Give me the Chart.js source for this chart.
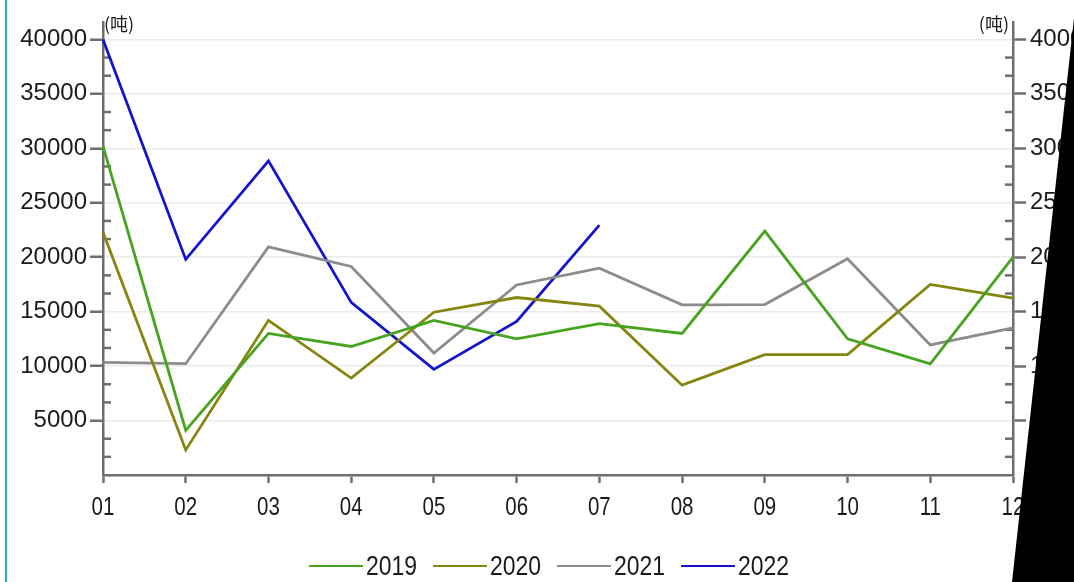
<!DOCTYPE html>
<html><head><meta charset="utf-8">
<script src="https://cdn.jsdelivr.net/npm/chart.js@4/dist/chart.umd.min.js"></script>
<style>
html,body{margin:0;padding:0;background:#fff;}
#wrap{position:relative;width:1074px;height:582px;overflow:hidden;background:#fff;}
#edge{position:absolute;left:5px;top:0;width:2px;height:582px;background:#3aa6d8;}
canvas{position:absolute;left:0;top:0;}
#legend{position:absolute;left:309px;top:548px;height:36px;display:flex;align-items:center;font-family:"Liberation Sans",Arial,sans-serif;font-size:28px;color:#1a1a1a;white-space:nowrap;}
#legend .item{display:flex;align-items:center;margin-right:16px;}
#legend .ln{width:54px;height:2.6px;margin-right:3px;}
#legend .tx{display:inline-block;transform:scaleX(0.82);transform-origin:0 50%;}
</style></head>
<body>
<div id="wrap">
<canvas id="c" width="1074" height="582"></canvas>
<div id="edge"></div>
<div id="legend"></div>
</div>
<script>
const months = ['01','02','03','04','05','06','07','08','09','10','11','12'];
const seriesNames = ['2019','2020','2021','2022'];
const s2019 = [30200, 4100, 13000, 11800, 14200, 12500, 13900, 13000, 22400, 12500, 10200, 20000];
const s2020 = [22300, 2300, 14200, 8900, 14950, 16300, 15500, 8250, 11050, 11050, 17500, 16250];
const s2021 = [10350, 10220, 20950, 19150, 11200, 17450, 19000, 15630, 15650, 19850, 11950, 13500];
const s2022 = [40000, 19800, 28850, 15850, 9700, 14100, 22950];
const yTickValues = [5000, 10000, 15000, 20000, 25000, 30000, 35000, 40000];
const unitLabel = '(吨)';

const colors = ['#46a41f', '#85850f', '#8c8c8c', '#1414cc'];
const seriesData = [s2019, s2020, s2021, s2022];
const axisColor = '#6e6e6e';
const Y_MAX = 41600;
const minorStep = 5000/3;

const decoPlugin = {
  id: 'deco',
  beforeDatasetsDraw(chart) {
    const ctx = chart.ctx, y = chart.scales.y, x = chart.scales.x, ca = chart.chartArea;
    ctx.save();
    ctx.strokeStyle = axisColor; ctx.lineWidth = 2.5;
    for (let k = 1; k * minorStep <= Y_MAX; k++) {
      if (k % 3 === 0) continue;
      const py = y.getPixelForValue(k * minorStep);
      ctx.beginPath(); ctx.moveTo(ca.left, py); ctx.lineTo(ca.left + 8, py); ctx.stroke();
      ctx.beginPath(); ctx.moveTo(ca.right - 8, py); ctx.lineTo(ca.right, py); ctx.stroke();
    }
    ctx.fillStyle = '#1a1a1a';
    ctx.font = '18px "Noto Sans CJK SC", sans-serif';
    ctx.textBaseline = 'middle';
    ctx.textAlign = 'left';
    ctx.fillText(unitLabel, ca.left + 1, ca.top + 2);
    ctx.textAlign = 'right';
    ctx.fillText(unitLabel, ca.right - 4, ca.top + 2);
    ctx.font = '25px "Liberation Sans", Arial, sans-serif';
    ctx.textAlign = 'center';
    x.ticks.forEach((t, i) => {
      const px = x.getPixelForTick(i);
      ctx.save();
      ctx.translate(px, ca.bottom + 33);
      ctx.scale(0.82, 1);
      ctx.fillText(x.getLabelForValue(t.value), 0, 0);
      ctx.restore();
    });
    ctx.restore();
  },
  afterDraw(chart) {
    const ctx = chart.ctx, W = chart.width, H = chart.height;
    ctx.save();
    ctx.fillStyle = '#000';
    ctx.beginPath();
    ctx.moveTo(W + 1, 9);
    ctx.lineTo(W + 1, H);
    ctx.lineTo(1012, H);
    ctx.closePath();
    ctx.fill();
    ctx.restore();
  }
};

const tickFont = {family: '"Liberation Sans", Arial, sans-serif', size: 24};
const plain = v => String(v);

new Chart(document.getElementById('c'), {
  type: 'line',
  data: {
    labels: months,
    datasets: seriesNames.map((n, i) => ({
      label: n, data: seriesData[i], borderColor: colors[i], backgroundColor: colors[i],
      borderWidth: 2.8, pointRadius: 0, tension: 0, fill: false, yAxisID: 'y'
    }))
  },
  options: {
    responsive: false, animation: false, devicePixelRatio: 1,
    layout: {padding: {top: 22, left: 0, right: 0, bottom: 0}},
    plugins: {legend: {display: false}, tooltip: {enabled: false}},
    scales: {
      x: {
        type: 'category', offset: false,
        grid: {display: true, drawOnChartArea: false, tickLength: 8, tickColor: axisColor, tickWidth: 2.5},
        border: {display: true, color: axisColor, width: 2.5},
        ticks: {display: false, autoSkip: false, maxRotation: 0},
        afterFit: s => { s.height = 107; }
      },
      y: {
        position: 'left', min: 0, max: Y_MAX,
        afterBuildTicks: s => { s.ticks = yTickValues.map(v => ({value: v})); },
        grid: {color: '#ebebeb', lineWidth: 1.5, tickColor: axisColor, tickLength: 13, tickWidth: 2.5},
        border: {display: true, color: axisColor, width: 2.5},
        ticks: {font: tickFont, color: '#1a1a1a', padding: 3, callback: plain},
        afterFit: s => { s.width = 103; }
      },
      y2: {
        position: 'right', min: 0, max: Y_MAX,
        afterBuildTicks: s => { s.ticks = yTickValues.map(v => ({value: v})); },
        grid: {drawOnChartArea: false, tickColor: axisColor, tickLength: 13, tickWidth: 2.5},
        border: {display: true, color: axisColor, width: 2.5},
        ticks: {font: tickFont, color: '#1a1a1a', padding: 4, callback: plain},
        afterFit: s => { s.width = 61; }
      }
    }
  },
  plugins: [decoPlugin]
});

const lg = document.getElementById('legend');
seriesNames.forEach((n, i) => {
  const it = document.createElement('div'); it.className = 'item';
  const ln = document.createElement('div'); ln.className = 'ln'; ln.style.background = colors[i];
  const tx = document.createElement('span'); tx.className = 'tx'; tx.textContent = n;
  it.appendChild(ln); it.appendChild(tx); lg.appendChild(it);
  tx.style.marginRight = (-tx.offsetWidth * 0.18) + 'px';
});
</script>
</body></html>
